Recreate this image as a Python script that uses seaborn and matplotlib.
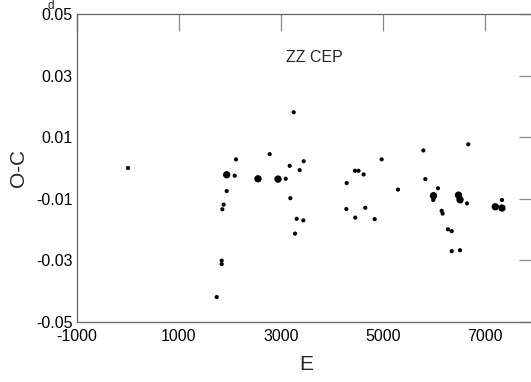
import numpy as np
import pandas as pd
import seaborn as sns
import matplotlib.pyplot as plt

# epoch E, O-C (days), marker class (1 = small, 2 = large)
epoch = [0, 1739, 1837, 1837, 1850, 1876, 1935, 1935, 2092, 2118,
         2549, 2778, 2941, 3092, 3170, 3183, 3249, 3275, 3307, 3366,
         3438, 3445, 4281, 4288, 4450, 4457, 4520, 4621, 4653, 4837,
         4974, 5294, 5791, 5830, 5985, 5990, 5995, 6078, 6150, 6170,
         6275, 6347, 6347, 6480, 6495, 6510, 6525, 6510, 6647, 6673,
         7202, 7333, 7333]
oc = [0.0000, -0.0419, -0.0301, -0.0312, -0.0134, -0.0119, -0.0022, -0.0075, -0.0025, 0.0028,
      -0.0035, 0.0045, -0.0036, -0.0035, 0.0007, -0.0098, 0.0181, -0.0213, -0.0165, -0.0007,
      -0.0170, 0.0022, -0.0133, -0.0049, -0.0009, -0.0161, -0.0009, -0.0021, -0.0129, -0.0166,
      0.0028, -0.0070, 0.0057, -0.0036, -0.0104, -0.0090, -0.0098, -0.0066, -0.0139, -0.0148,
      -0.0199, -0.0205, -0.0270, -0.0088, -0.0095, -0.0103, -0.0108, -0.0267, -0.0115, 0.0077,
      -0.0126, -0.0130, -0.0104]
weight = [1, 1, 1, 1, 1, 1, 2, 1, 1, 1,
          2, 1, 2, 1, 1, 1, 1, 1, 1, 1,
          1, 1, 1, 1, 1, 1, 1, 1, 1, 1,
          1, 1, 1, 1, 1, 2, 1, 1, 1, 1,
          1, 1, 1, 2, 1, 2, 1, 1, 1, 1,
          2, 2, 1]

xticks = [-1000, 1000, 3000, 5000, 7000]
yticks = [0.05, 0.03, 0.01, -0.01, -0.03, -0.05]

df = pd.DataFrame({"E": epoch, "O-C": oc, "w": weight})

sns.set_style("white")
plt.rcParams["font.family"] = ["Liberation Sans", "DejaVu Sans"]

fig = plt.figure(figsize=(5.31, 3.82), dpi=100)
ax = fig.add_axes([77 / 531, 60 / 382, 459 / 531, 308 / 382])

sns.scatterplot(data=df, x="E", y="O-C", size="w", sizes={1: 9, 2: 28},
                color="black", edgecolor="none", legend=False, ax=ax)

ax.set_xlim(-1000, 8000)
ax.set_ylim(-0.05, 0.05)
ax.set_xticks(xticks)
ax.set_yticks(yticks)
ax.set_xticklabels([str(t) for t in xticks])
ax.set_yticklabels(["0.05", "0.03", "0.01", "-0.01", "-0.03", "-0.05"])
ax.tick_params(direction="in", length=12.5, width=0.9, color="#888888",
               labelsize=11.5, top=True, right=True, labelcolor="black")
ax.tick_params(axis="y", pad=3)
ax.tick_params(axis="x", pad=5)
for s in ax.spines.values():
    s.set_color("#666666")
    s.set_linewidth(0.9)

ax.set_xlabel("E", fontsize=15, labelpad=8)
ax.set_ylabel("O-C", fontsize=15, labelpad=6)
ax.text(3100, 0.036, "ZZ CEP", fontsize=11.5, va="center", ha="left")
# superscript day mark beside the top label
fig.text(51 / 531, 1 - 9 / 382, "d", fontsize=8.5, ha="center", va="baseline")

fig.savefig("out.png", dpi=100)
